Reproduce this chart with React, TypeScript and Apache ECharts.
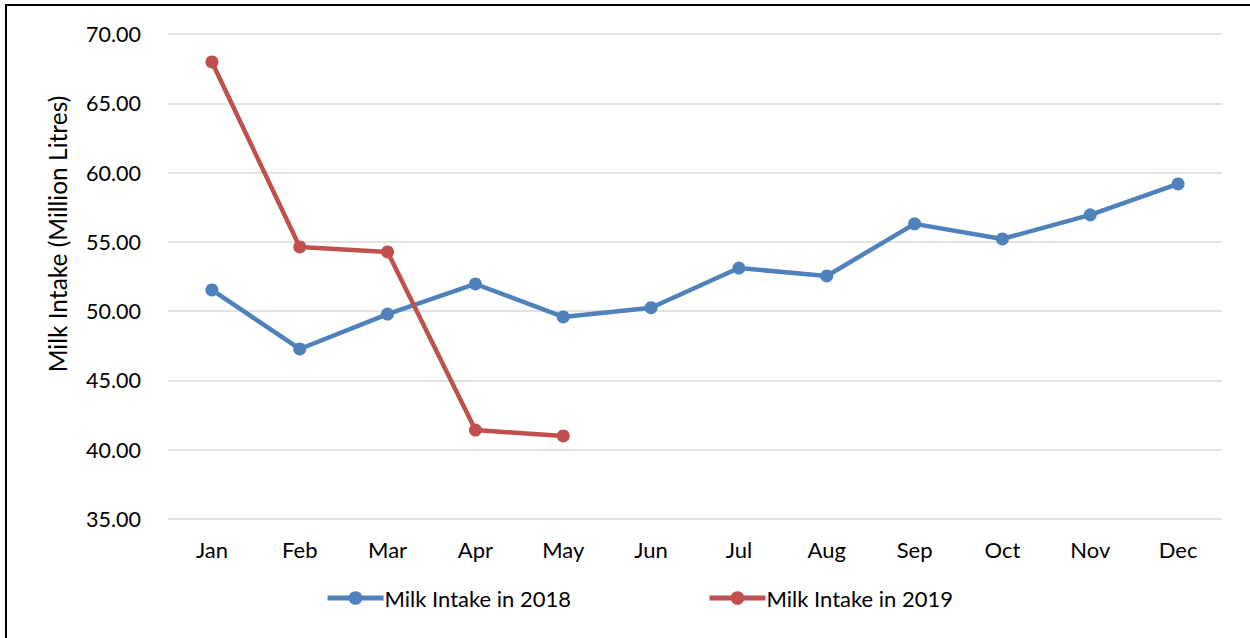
import React, { useEffect, useRef } from "react";
import * as echarts from "echarts";

const months = ["Jan", "Feb", "Mar", "Apr", "May", "Jun", "Jul", "Aug", "Sep", "Oct", "Nov", "Dec"];
const intake2018 = [51.53, 47.27, 49.79, 51.96, 49.58, 50.25, 53.11, 52.54, 56.3, 55.21, 56.95, 59.18];
const intake2019 = [67.98, 54.63, 54.27, 41.42, 40.99];
const yTicks = { min: 35, max: 70, interval: 5 };

const FONT = "Lato, 'Open Sans', sans-serif";

export default function App() {
  const ref = useRef<HTMLDivElement>(null);
  useEffect(() => {
    if (!ref.current) return;
    const chart = echarts.init(ref.current, null, { renderer: "svg" });
    const legendBase = {
      top: 587,
      itemWidth: 56,
      itemHeight: 17,
      itemGap: 4,
      padding: 0,
      lineStyle: { width: 5 },
      textStyle: { color: "#000", fontSize: 22, fontFamily: FONT, padding: [0, 0, 0, -4] },
    };
    chart.setOption({
      animation: false,
      backgroundColor: "#ffffff",
      textStyle: { fontFamily: FONT },
      grid: { left: 168, right: 28, top: 34, bottom: 119, containLabel: false },
      xAxis: {
        type: "category",
        data: months,
        boundaryGap: true,
        axisLine: { show: false },
        axisTick: { show: false },
        axisLabel: { color: "#000", fontSize: 22, fontFamily: FONT, margin: 19 },
      },
      yAxis: {
        type: "value",
        min: yTicks.min,
        max: yTicks.max,
        interval: yTicks.interval,
        axisLine: { show: false },
        axisTick: { show: false },
        splitLine: { lineStyle: { color: "#d9d9d9", width: 1.5 } },
        axisLabel: {
          color: "#000",
          fontSize: 21.5,
          fontFamily: FONT,
          margin: 27,
          formatter: (v: number) => v.toFixed(2),
        },
      },
      legend: [
        { ...legendBase, data: ["Milk Intake in 2018"], left: 325 },
        { ...legendBase, data: ["Milk Intake in 2019"], left: 707 },
      ],
      graphic: [
        {
          type: "rect",
          shape: { x: 6, y: 5, width: 1260, height: 650 },
          style: { fill: "none", stroke: "#000", lineWidth: 2 },
          silent: true,
        },
        {
          type: "text",
          x: 57,
          y: 234,
          rotation: Math.PI / 2,
          style: {
            text: "Milk Intake (Million Litres)",
            fontSize: 24.5,
            fontFamily: FONT,
            fill: "#000",
            align: "center",
            verticalAlign: "middle",
          },
        },
      ],
      series: [
        {
          name: "Milk Intake in 2018",
          type: "line",
          data: intake2018,
          color: "#4F81BD",
          lineStyle: { width: 4.5, color: "#4F81BD" },
          itemStyle: { color: "#4F81BD" },
          symbol: "circle",
          symbolSize: 13,
        },
        {
          name: "Milk Intake in 2019",
          type: "line",
          data: intake2019,
          color: "#C0504D",
          lineStyle: { width: 4.5, color: "#C0504D" },
          itemStyle: { color: "#C0504D" },
          symbol: "circle",
          symbolSize: 13,
        },
      ],
    });
    return () => chart.dispose();
  }, []);
  return <div ref={ref} style={{ position: "fixed", left: 0, top: 0, width: 1250, height: 638 }} />;
}
